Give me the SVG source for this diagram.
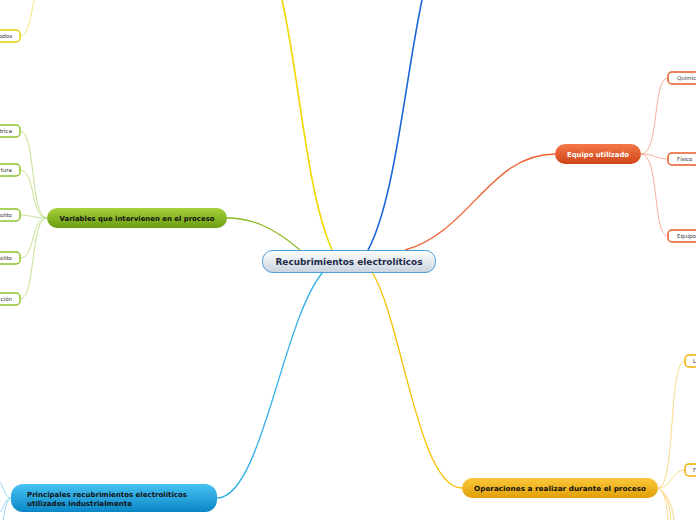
<svg xmlns="http://www.w3.org/2000/svg" width="696" height="520" viewBox="0 0 696 520">
<defs>
<linearGradient id="gCentral" x1="0" y1="0" x2="0" y2="1"><stop offset="0" stop-color="#ffffff"/><stop offset="1" stop-color="#c9d3dd"/></linearGradient>
<linearGradient id="gGreen" x1="0" y1="0" x2="0" y2="1"><stop offset="0" stop-color="#a6d23a"/><stop offset="1" stop-color="#6b9c12"/></linearGradient>
<linearGradient id="gOrange" x1="0" y1="0" x2="0" y2="1"><stop offset="0" stop-color="#f5784a"/><stop offset="1" stop-color="#cf4418"/></linearGradient>
<linearGradient id="gGold" x1="0" y1="0" x2="0" y2="1"><stop offset="0" stop-color="#fcc83a"/><stop offset="1" stop-color="#e0a008"/></linearGradient>
<linearGradient id="gBlue" x1="0" y1="0" x2="0" y2="1"><stop offset="0" stop-color="#48c2f2"/><stop offset="1" stop-color="#0a86c6"/></linearGradient>
</defs>
<style>
.t{font-family:"DejaVu Sans",Verdana,sans-serif;font-weight:bold}
.s{font-family:"DejaVu Sans",Verdana,sans-serif;font-size:5.5px;fill:#333}
.c{fill:none}
.leaf{fill:#fff;stroke-width:1.5}
</style>
<g id="connectors" class="c">
<path d="M332,250 C306,190 300,80 282,0" stroke="#f0d800" stroke-width="1.6"/>
<path d="M368,250 C395,200 405,80 422,0" stroke="#1a66d8" stroke-width="1.6"/>
<path d="M405,250 C470,232 490,154 555,154" stroke="#f06030" stroke-width="1.3"/>
<path d="M300,250 C272,226 250,218 227,218" stroke="#8ab820" stroke-width="1.3"/>
<path d="M372,272 C402,320 418,488 462,488" stroke="#f8c000" stroke-width="1.3"/>
<path d="M323,272 C282,320 262,498 217,498" stroke="#30aee8" stroke-width="1.3"/>
<g stroke="#c4e294" stroke-width="1">
<path d="M47,218 C30,218 36,131 20,131"/>
<path d="M47,218 C30,218 36,170 20,170"/>
<path d="M47,218 C34,218 30,215 20,215"/>
<path d="M47,218 C30,218 36,258 20,258"/>
<path d="M47,218 C30,218 36,299 20,299"/>
</g>
<path d="M20,36 C28,36 30,20 34,0" stroke="#f4e880" stroke-width="1"/>
<g stroke="#f8b098" stroke-width="1">
<path d="M641,154 C660,154 652,78 668,78"/>
<path d="M641,154 C655,154 656,159 668,159"/>
<path d="M641,154 C660,154 652,236 668,236"/>
</g>
<g stroke="#fcd88a" stroke-width="1">
<path d="M658,488 C676,488 668,361 685,361"/>
<path d="M658,488 C672,488 672,470 685,470"/>
<path d="M658,488 C665,492 667,505 668,520"/>
<path d="M658,488 C668,494 670,508 671,520"/>
<path d="M658,488 C670,496 673,510 674,520"/>
</g>
<g stroke="#9ad6f4" stroke-width="1">
<path d="M11,498 C5,498 4,488 0,482"/>
<path d="M11,498 C5,498 4,508 0,512"/>
<path d="M11,498 C6,500 5,512 3,520"/>
</g>
</g>
<g id="central">
<rect x="262.5" y="250.5" width="173" height="22" rx="10" fill="url(#gCentral)" stroke="#4b9fdc" stroke-width="1"/>
<text class="t" x="349" y="265" font-size="8.5" fill="#1b2a4a" text-anchor="middle" textLength="147" lengthAdjust="spacingAndGlyphs">Recubrimientos electrolíticos</text>
</g>
<g id="variables">
<rect x="47" y="208" width="180" height="20" rx="10" fill="url(#gGreen)"/>
<text class="t" x="137" y="221" font-size="7" fill="#111" text-anchor="middle" textLength="155" lengthAdjust="spacingAndGlyphs">Variables que intervienen en el proceso</text>
</g>
<g id="v1"><rect class="leaf" x="-20" y="125" width="40" height="12" rx="4" stroke="#8cc22a"/><text class="s" x="12" y="133" text-anchor="end">trica</text></g>
<g id="v2"><rect class="leaf" x="-20" y="164" width="40" height="12" rx="4" stroke="#8cc22a"/><text class="s" x="12" y="172" text-anchor="end">tura</text></g>
<g id="v3"><rect class="leaf" x="-20" y="209" width="40" height="12" rx="4" stroke="#8cc22a"/><text class="s" x="12" y="217" text-anchor="end">olito</text></g>
<g id="v4"><rect class="leaf" x="-20" y="252" width="40" height="12" rx="4" stroke="#8cc22a"/><text class="s" x="12" y="260" text-anchor="end">olito</text></g>
<g id="v5"><rect class="leaf" x="-20" y="293" width="40" height="12" rx="4" stroke="#8cc22a"/><text class="s" x="12" y="301" text-anchor="end">ción</text></g>
<g id="y1"><rect class="leaf" x="-20" y="30" width="40" height="12" rx="4" stroke="#e8d200"/><text class="s" x="12" y="38" text-anchor="end">odos</text></g>
<g id="equipo">
<rect x="555" y="144" width="86" height="20" rx="10" fill="url(#gOrange)"/>
<text class="t" x="598" y="157" font-size="7" fill="#fff" text-anchor="middle" textLength="62" lengthAdjust="spacingAndGlyphs">Equipo utilizado</text>
</g>
<g id="e1"><rect class="leaf" x="668" y="72" width="40" height="12" rx="4" stroke="#e85a2a"/><text class="s" x="677" y="80">Quimic</text></g>
<g id="e2"><rect class="leaf" x="668" y="153" width="40" height="12" rx="4" stroke="#e85a2a"/><text class="s" x="677" y="161">Físico</text></g>
<g id="e3"><rect class="leaf" x="668" y="230" width="40" height="12" rx="4" stroke="#e85a2a"/><text class="s" x="677" y="238">Equipo</text></g>
<g id="operaciones">
<rect x="462" y="478" width="196" height="20" rx="10" fill="url(#gGold)"/>
<text class="t" x="560" y="491" font-size="7" fill="#111" text-anchor="middle" textLength="172" lengthAdjust="spacingAndGlyphs">Operaciones a  realizar  durante  el  proceso</text>
</g>
<g id="o1"><rect class="leaf" x="685" y="355" width="30" height="12" rx="4" stroke="#f0b000"/><text class="s" x="693" y="363">L</text></g>
<g id="o2"><rect class="leaf" x="685" y="464" width="30" height="12" rx="4" stroke="#f0b000"/><text class="s" x="693" y="472">F</text></g>
<g id="principales">
<rect x="11" y="484" width="206" height="28" rx="12" fill="url(#gBlue)"/>
<text class="t" x="27" y="497" font-size="7" fill="#111" textLength="160" lengthAdjust="spacingAndGlyphs">Principales recubrimientos  electrolíticos</text>
<text class="t" x="27" y="506" font-size="7" fill="#111" textLength="105" lengthAdjust="spacingAndGlyphs">utilizados  industrialmente</text>
</g>
</svg>
